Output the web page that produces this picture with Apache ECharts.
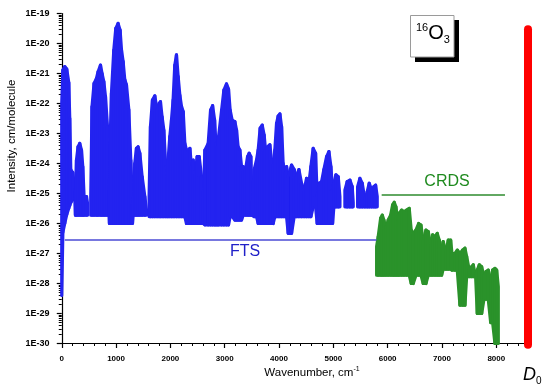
<!DOCTYPE html>
<html><head><meta charset="utf-8">
<script src="https://cdn.jsdelivr.net/npm/echarts@6/dist/echarts.min.js"></script>
<style>html,body{margin:0;padding:0;background:#fff}#c{width:550px;height:390px}</style>
</head><body><div id="c"></div>
<script>
// FTS envelope: wavenumber (cm-1), upper and lower intensity (cm/molecule); null = gap
const ftsX = [0,20,55,92,129,147,166,203,240,252,271,300,331,363,387,411,455,474,500,
 534,557,595,639,669,713,742,774,805,842,872,878,890,915,958,995,1037,1074,1100,1130,1160,1191,1234,1271,1302,
 1314,1344,1375,1405,1437,1480,1529,1560,1585,
 1608,1633,1670,1713,1755,1792,1817,1847,1879,1915,1940,1958,1989,2020,2050,2081,2112,2143,2174,2205,2236,2266,
 2297,2328,2359,2389,2420,2451,2493,2530,2574,2604,2635,2696,2740,2777,2814,2838,2862,2887,2943,2985,3033,3070,
 3100,3137,3187,3218,3247,3279,3310,3340,3384,3421,3450,3481,3505,3542,3586,3616,3653,3690,3726,3752,3789,3831,
 3863,3892,3923,3955,3984,4016,4047,4076,4108,4139,4169,4231,4279,4323,4366,4415,4463,4507,4550,4587,4629,4673,
 4703,4740,4784,4826,4876,4918,4955,4986,5010,5047,5090,5121,5160,
 5213,5255,5305,5347,5366,5400,
 5447,5489,5532,5581,5624,5661,5705,5747,5778,5808];
const ftsTop = [1.0e-22,1.3e-21,1.7e-21,1.4e-21,5.0e-22,3.2e-23,6.3e-25,5.0e-25,1.3e-25,7.9e-26,1.3e-24,3.6e-24,4.7e-24,2.8e-24,7.9e-25,7.9e-26,7.9e-26,4.7e-26,null,
 7.9e-26,7.9e-23,4.7e-22,6.9e-22,1.15e-21,1.9e-21,1.0e-21,5.4e-22,1.7e-22,1.7e-23,1.3e-25,1.3e-25,4.7e-24,2.2e-22,6.0e-21,3.2e-20,4.7e-20,2.8e-20,6.0e-21,2.5e-21,6.3e-22,4.2e-22,6.3e-23,1.3e-24,4.7e-26,
 2.8e-26,1.0e-24,3.2e-24,3.6e-24,2.2e-24,3.6e-25,7.9e-26,2.8e-26,null,
 7.9e-26,1.7e-23,1.3e-22,1.8e-22,6.0e-23,1.0e-22,1.15e-22,3.6e-23,1.3e-23,7.9e-25,3.6e-25,1.3e-24,7.9e-24,2.8e-23,1.3e-22,1.9e-21,4.2e-21,7.9e-22,1.9e-22,7.9e-23,5.4e-23,4.7e-24,
 2.8e-24,2.8e-24,3.2e-24,7.9e-25,1.3e-24,3.6e-25,1.7e-24,1.7e-24,3.6e-25,4.7e-26,2.8e-24,4.7e-24,6.0e-23,8.5e-23,2.8e-23,4.7e-24,2.8e-24,7.9e-24,6.0e-23,2.8e-22,4.5e-22,3.0e-22,
 6.0e-23,2.8e-23,2.5e-23,1.3e-23,3.6e-24,2.8e-24,7.9e-25,7.9e-25,6.3e-25,1.7e-24,2.2e-24,1.7e-24,2.8e-26,6.3e-25,1.3e-24,2.8e-24,1.5e-23,1.9e-23,8.9e-24,2.8e-24,3.6e-24,4.2e-24,
 1.3e-24,6.3e-25,2.8e-24,2.2e-23,3.8e-23,4.5e-23,1.7e-23,1.0e-24,3.6e-25,7.9e-25,3.6e-25,8.9e-25,6.3e-25,3.6e-25,6.3e-25,2.2e-25,1.3e-25,3.2e-25,2.2e-25,7.9e-25,3.2e-24,2.2e-24,
 7.9e-26,2.2e-25,2.5e-25,6.3e-25,1.7e-24,2.5e-24,7.9e-25,1.3e-25,2.2e-25,4.2e-25,3.6e-25,7.9e-26,null,
 1.3e-25,2.5e-25,2.8e-25,1.7e-25,5.0e-26,null,
 1.7e-25,3.2e-25,2.2e-25,6.3e-26,1.15e-25,2.2e-25,1.3e-25,1.7e-25,1.9e-25,7.9e-26];
const ftsBottom = [4e-29,5e-27,1.0e-26,2.0e-26,3.2e-26,4.0e-26,5.0e-26,6.3e-26,7.9e-26,1.9e-26,1.9e-26,1.9e-26,1.9e-26,1.9e-26,1.9e-26,1.9e-26,1.9e-26,1.9e-26,null,
 1.9e-26,1.9e-26,1.9e-26,1.9e-26,1.9e-26,1.9e-26,1.9e-26,1.9e-26,1.9e-26,1.9e-26,1.9e-26,1e-26,1e-26,1e-26,1e-26,1e-26,1e-26,1e-26,1e-26,1e-26,1e-26,1e-26,1e-26,1e-26,1e-26,
 1.9e-26,1.9e-26,1.9e-26,1.9e-26,1.9e-26,1.9e-26,1.9e-26,1.9e-26,null,
 1.7e-26,1.7e-26,1.7e-26,1.7e-26,1.7e-26,1.7e-26,1.7e-26,1.7e-26,1.7e-26,1.7e-26,1.7e-26,1.7e-26,1.7e-26,1.7e-26,1.7e-26,1.7e-26,1.7e-26,1.7e-26,1.7e-26,1.7e-26,1.7e-26,1.7e-26,
 1e-26,1e-26,1e-26,1e-26,1e-26,1e-26,1e-26,1e-26,1e-26,1e-26,9e-27,9e-27,9e-27,9e-27,9e-27,9e-27,9e-27,9e-27,9e-27,9e-27,9e-27,9e-27,
 1.7e-26,1.7e-26,1.3e-26,1.3e-26,1.3e-26,1.3e-26,1.3e-26,1.9e-26,1.9e-26,1.9e-26,1.9e-26,1.9e-26,1.9e-26,1.7e-26,1.7e-26,1e-26,1e-26,1e-26,1e-26,1e-26,1e-26,1e-26,
 1e-26,1e-26,1.7e-26,1.7e-26,1.7e-26,1.7e-26,1.7e-26,1.7e-26,1.7e-26,1.7e-26,4.7e-27,4.7e-27,1.7e-26,1.7e-26,1.7e-26,1.7e-26,1.7e-26,1.7e-26,1.7e-26,1.7e-26,3.6e-26,3.6e-26,
 1e-26,1e-26,1e-26,1e-26,1e-26,1e-26,1e-26,1e-26,3.6e-26,3.6e-26,3.6e-26,3.6e-26,null,
 3.6e-26,3.6e-26,3.6e-26,3.6e-26,3.6e-26,null,
 3.6e-26,3.6e-26,3.6e-26,3.6e-26,3.6e-26,3.6e-26,3.6e-26,3.6e-26,3.6e-26,3.6e-26];

// CRDS envelope
const crdsX = [5797,5826,5871,5900,5931,5968,6010,6055,6092,6121,6152,6184,6213,6257,6300,6349,6397,6434,6471,6521,
 6570,6613,6655,6705,6747,6792,6828,6871,6913,6950,6994,7023,7073,7116,7160,7184,7239,7282,7331,7381,7423,7454,
 7502,7546,7576,7620,7650,7687,7731,7773,7810,7852,7897,7933,7976,8007,8037];
const crdsTop = [1.7e-27,3.6e-27,1.5e-26,1.9e-26,1.3e-26,6.9e-27,1.3e-26,1.9e-26,4.2e-26,5.1e-26,3.6e-26,1.3e-26,2.2e-26,2.8e-26,2.5e-26,2.8e-26,3.2e-26,6.0e-27,4.7e-27,6.0e-27,
 1.0e-26,8.9e-27,2.5e-27,6.0e-27,5.4e-27,1.9e-27,4.2e-27,3.6e-27,4.7e-27,2.8e-27,1.3e-27,2.5e-27,1.15e-27,2.8e-27,2.8e-27,1.0e-27,1.0e-27,1.3e-27,1.0e-27,1.3e-27,1.5e-27,8.0e-28,
 2.8e-28,3.6e-28,4.2e-28,1.7e-28,2.8e-28,4.2e-28,3.6e-28,1.7e-28,2.5e-28,2.8e-28,1.3e-28,2.8e-28,3.2e-28,2.8e-28,7.9e-29];
const crdsBottom = [1.9e-28,1.9e-28,1.9e-28,1.9e-28,1.9e-28,1.9e-28,1.9e-28,1.9e-28,1.9e-28,1.9e-28,1.9e-28,1.9e-28,1.9e-28,1.9e-28,1.9e-28,1.9e-28,1.9e-28,1e-28,1e-28,1.9e-28,
 1.9e-28,1.9e-28,1e-28,1e-28,1.9e-28,1.9e-28,1.9e-28,1.9e-28,1.9e-28,1.9e-28,1.9e-28,3e-28,3e-28,3e-28,3e-28,2.8e-28,2.8e-28,2.8e-28,1.9e-29,1.9e-29,1.9e-29,1.7e-28,
 1.7e-28,1.7e-28,1.7e-28,1.7e-28,1e-29,1e-29,1e-29,3e-29,3e-29,3e-29,5e-30,5e-30,1.0e-30,1.0e-30,1.0e-30];

// reference lines
const ftsLineX = [55, 5795];
const ftsLineY = [2.8e-27, 2.8e-27];
const crdsLineX = [5890, 8160];
const crdsLineY = [8.9e-26, 8.9e-26];
const d0X = [8584, 8584];
const d0Y = [3.0e-20, 9e-31];

// axes
const xTickValues = [0,1000,2000,3000,4000,5000,6000,7000,8000];
const xMinorValues = [200,400,600,800,1200,1400,1600,1800,2200,2400,2600,2800,3200,3400,3600,3800,4200,4400,4600,4800,5200,5400,5600,5800,6200,6400,6600,6800,7200,7400,7600,7800,8200,8400];
const yTickLabels = ['1E-30','1E-29','1E-28','1E-27','1E-26','1E-25','1E-24','1E-23','1E-22','1E-21','1E-20','1E-19'];

// ECharts' log scale loses precision at ~1e-30, so intensities are plotted in units of 1e-30 cm/molecule
const UNIT = 1e-30;
const u = v => (v == null ? null : v / UNIT);
const yMin = u(1e-30), yMax = u(1e-19);
const yMinorValues = [];
for (let e = 0; e < 11; e++) for (let m = 2; m <= 9; m++) yMinorValues.push(m * Math.pow(10, e));

const FONT = "'Liberation Sans',Arial,sans-serif";

function envelope(xs, tops, bots, fill, stroke) {
  const segs = [];
  for (let i = 0; i < xs.length - 1; i++) {
    if (tops[i] == null || tops[i + 1] == null) continue;
    segs.push([xs[i], u(tops[i]), u(bots[i]), xs[i + 1], u(tops[i + 1]), u(bots[i + 1])]);
  }
  return {
    type: 'custom', data: segs, silent: true,
    encode: { x: [0, 3], y: [1, 2, 4, 5] },
    renderItem: function (params, api) {
      const p1 = api.coord([api.value(0), api.value(1)]);
      const p2 = api.coord([api.value(3), api.value(4)]);
      const p3 = api.coord([api.value(3), api.value(5)]);
      const p4 = api.coord([api.value(0), api.value(2)]);
      return { type: 'polygon', shape: { points: [p1, p2, p3, p4] },
        style: { fill: fill, stroke: stroke, lineWidth: 3.2, lineJoin: 'round' } };
    }
  };
}

const chart = echarts.init(document.getElementById('c'), null, { renderer: 'canvas' });
chart.setOption({
  animation: false,
  backgroundColor: '#fff',
  grid: { left: 58.5, right: 22, top: 13.5, bottom: 46.5, containLabel: false },
  xAxis: [
    { type: 'value', min: -60, max: 8584, position: 'bottom',
      splitLine: { show: false },
      axisLine: { lineStyle: { color: '#000', width: 1.2 } },
      axisTick: { customValues: xTickValues, length: 4.5, lineStyle: { color: '#000', width: 1.2 } },
      axisLabel: { customValues: xTickValues, color: '#000', fontFamily: FONT, fontWeight: 'bold', fontSize: 8, margin: 11,
        formatter: function (v) { return String(v); } } },
    { type: 'value', min: -60, max: 8584, position: 'bottom',
      splitLine: { show: false }, axisLine: { show: false },
      axisTick: { customValues: xMinorValues, length: 2.5, lineStyle: { color: '#000', width: 1 } },
      axisLabel: { show: false } }
  ],
  yAxis: [
    { type: 'log', logBase: 10, min: yMin, max: yMax, interval: 1, position: 'left',
      splitLine: { show: false },
      axisLine: { lineStyle: { color: '#000', width: 1.2 } },
      axisTick: { length: 5, lineStyle: { color: '#000', width: 1.2 } },
      axisLabel: { color: '#000', fontFamily: FONT, fontWeight: 'bold', fontSize: 9, margin: 9,
        formatter: function (v) { return yTickLabels[Math.round(Math.log10(v))]; } } },
    { type: 'log', logBase: 10, min: yMin, max: yMax, position: 'left',
      splitLine: { show: false }, axisLine: { show: false },
      axisTick: { customValues: yMinorValues, length: 3, lineStyle: { color: '#000', width: 1 } },
      axisLabel: { show: false } }
  ],
  series: [
    envelope(ftsX, ftsTop, ftsBottom, '#1010ec', '#2323f0'),
    envelope(crdsX, crdsTop, crdsBottom, '#1a8a1a', '#2a922a'),
    { type: 'line', symbol: 'none', silent: true, data: ftsLineX.map((x, i) => [x, u(ftsLineY[i])]),
      lineStyle: { color: '#4b4bd4', width: 1.5 } },
    { type: 'line', symbol: 'none', silent: true, data: crdsLineX.map((x, i) => [x, u(crdsLineY[i])]),
      lineStyle: { color: '#2e8b2e', width: 1.5 } },
    { type: 'line', symbol: 'none', silent: true, clip: false, data: d0X.map((x, i) => [x, u(d0Y[i])]),
      lineStyle: { color: '#ff0000', width: 8, cap: 'round' }, z: 5 }
  ],
  graphic: [
    { type: 'rect', shape: { x: 415, y: 20, width: 44, height: 42 }, style: { fill: '#000' }, z: 10 },
    { type: 'rect', shape: { x: 410.5, y: 15.5, width: 43.5, height: 41.5 }, style: { fill: '#fff', stroke: '#9a9a9a', lineWidth: 1 }, z: 11 },
    { type: 'text', x: 416, y: 22, z: 12, style: { text: '{a|16}{b|O}{c|3}', rich: {
        a: { fontSize: 11, fontFamily: FONT, fill: '#000', verticalAlign: 'top', padding: [0, 0, 8, 0] },
        b: { fontSize: 20, fontFamily: FONT, fill: '#000' },
        c: { fontSize: 11, fontFamily: FONT, fill: '#000', padding: [12, 0, 0, 0] } } } },
    { type: 'text', x: 245, y: 252, z: 12, style: { text: 'FTS', fill: '#2020c8', fontSize: 16, fontFamily: FONT, align: 'center', verticalAlign: 'middle' } },
    { type: 'text', x: 447, y: 182, z: 12, style: { text: 'CRDS', fill: '#1e8a1e', fontSize: 16, fontFamily: FONT, align: 'center', verticalAlign: 'middle' } },
    { type: 'text', x: 12, y: 136, rotation: Math.PI / 2, z: 12, style: { text: 'Intensity, cm/molecule', fill: '#000', fontSize: 11.5, fontFamily: FONT, align: 'center', verticalAlign: 'middle' } },
    { type: 'text', x: 312, y: 373, z: 12, style: { text: 'Wavenumber, cm{s|-1}', fill: '#000', fontSize: 11.5, fontFamily: FONT, align: 'center', verticalAlign: 'middle',
        rich: { s: { fontSize: 7, fontFamily: FONT, fill: '#000', padding: [0, 0, 8, 0] } } } },
    { type: 'text', x: 523, y: 364, z: 12, style: { text: '{d|D}{o|0}', rich: {
        d: { fontSize: 18, fontStyle: 'italic', fontFamily: FONT, fill: '#000' },
        o: { fontSize: 10, fontFamily: FONT, fill: '#000', padding: [12, 0, 0, 0] } } } }
  ]
});
</script></body></html>
